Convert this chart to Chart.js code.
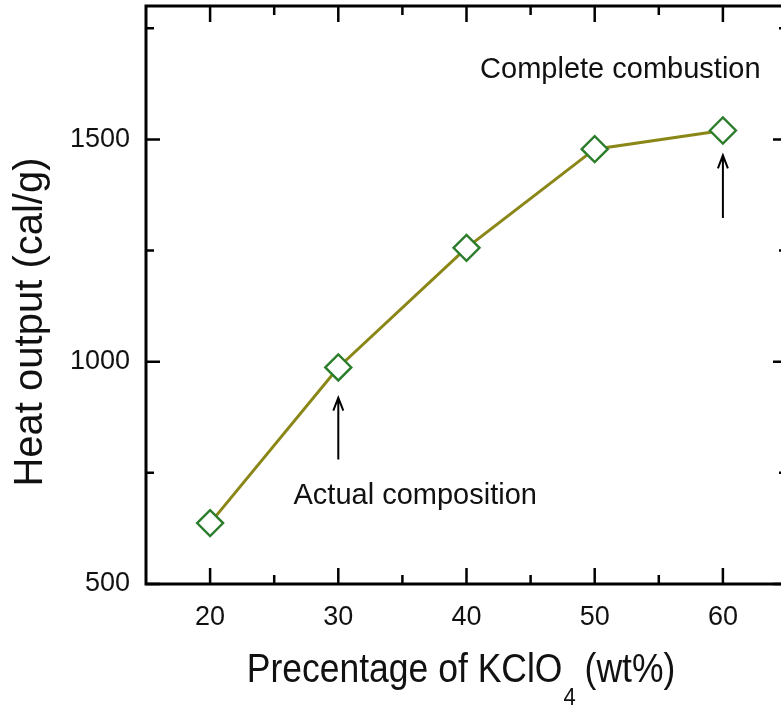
<!DOCTYPE html>
<html>
<head>
<meta charset="utf-8">
<script src="https://cdn.jsdelivr.net/npm/chart.js@4.4.0/dist/chart.umd.min.js"></script>
<style>
  html, body { margin: 0; padding: 0; background: #fff; overflow: hidden; }
  canvas { display: block; }
</style>
</head>
<body>
<canvas id="chart" width="800" height="708"></canvas>
<script>
const kclo4Pct = [20, 30, 40, 50, 60];
const heatOutput = [637, 987, 1256, 1478, 1520];
const xTicks = [20, 30, 40, 50, 60];
const xMinorTicks = [25, 35, 45, 55];
const yTicks = [500, 1000, 1500];
const yMinorTicks = [750, 1250, 1750];

const FONT = '"Liberation Sans", Arial, Helvetica, sans-serif';

// text + arrow notes, given in data units
const notes = [
  { text: "Complete combustion", x: 52, y: 1637, arrowX: 60, from: 1323, to: 1464 },
  { text: "Actual composition", x: 36, y: 679, arrowX: 30, from: 780, to: 919 },
];

// box, inward ticks, titles and notes
const frame = {
  id: "frame",
  afterDraw(chart) {
    const { ctx, chartArea: a, scales: { x, y } } = chart;
    ctx.save();
    ctx.strokeStyle = "#000";
    ctx.lineCap = "butt";

    ctx.lineWidth = 2.5;
    ctx.beginPath();
    const xt = (vals, len) => vals.forEach(v => {
      const px = x.getPixelForValue(v);
      ctx.moveTo(px, a.bottom); ctx.lineTo(px, a.bottom - len);
      ctx.moveTo(px, a.top); ctx.lineTo(px, a.top + len);
    });
    const yt = (vals, len) => vals.forEach(v => {
      const py = y.getPixelForValue(v);
      ctx.moveTo(a.left, py); ctx.lineTo(a.left + len, py);
      ctx.moveTo(a.right, py); ctx.lineTo(a.right - len, py);
    });
    xt(xTicks, 16); xt(xMinorTicks, 9);
    yt(yTicks, 14); yt(yMinorTicks, 8);
    ctx.stroke();

    ctx.lineWidth = 3;
    ctx.strokeRect(a.left, a.top, a.right - a.left, a.bottom - a.top);

    ctx.fillStyle = "#111";

    // y title
    ctx.save();
    ctx.translate(31, 322);
    ctx.rotate(-Math.PI / 2);
    ctx.font = "40px " + FONT;
    ctx.textAlign = "center";
    ctx.textBaseline = "middle";
    ctx.fillText("Heat output (cal/g)", 0, 0);
    ctx.restore();

    // x title with subscript (glyphs look a bit taller in the source)
    const big = "35.5px " + FONT, small = "22px " + FONT;
    const p1 = "Precentage of KClO", p2 = "4", p3 = " (wt%)";
    ctx.font = big;
    const w1 = ctx.measureText(p1).width, w3 = ctx.measureText(p3).width;
    ctx.font = small;
    const w2 = ctx.measureText(p2).width;
    let cx = 461 - (w1 + w2 + w3) / 2;
    ctx.textAlign = "left";
    ctx.textBaseline = "alphabetic";
    const tall = (t, px, base) => {
      ctx.save();
      ctx.translate(px, base);
      ctx.scale(1, 1.12);
      ctx.fillText(t, 0, 0);
      ctx.restore();
    };
    ctx.font = big; tall(p1, cx, 682); cx += w1 + 1;
    ctx.font = small; tall(p2, cx, 705); cx += w2;
    ctx.font = big; tall(p3, cx - 1, 682);

    // notes
    ctx.font = "29px " + FONT;
    ctx.textAlign = "center";
    ctx.lineWidth = 2;
    notes.forEach(n => {
      ctx.fillText(n.text, x.getPixelForValue(n.x), y.getPixelForValue(n.y));
      const ax = x.getPixelForValue(n.arrowX);
      const tail = y.getPixelForValue(n.from), tip = y.getPixelForValue(n.to);
      ctx.beginPath();
      ctx.moveTo(ax, tail); ctx.lineTo(ax, tip);
      ctx.moveTo(ax - 5, tip + 13); ctx.lineTo(ax, tip); ctx.lineTo(ax + 5, tip + 13);
      ctx.stroke();
    });
    ctx.restore();
  }
};

const tickFont = { family: FONT, size: 27 };
const noPad = s => { s.paddingTop = 0; s.paddingBottom = 0; s.paddingLeft = 0; s.paddingRight = 0; };

new Chart(document.getElementById("chart"), {
  type: "line",
  data: {
    datasets: [{
      data: kclo4Pct.map((v, i) => ({ x: v, y: heatOutput[i] })),
      borderColor: "#8a8718",
      borderWidth: 3,
      tension: 0,
      pointStyle: "rectRot",
      pointRadius: 13,
      pointBorderWidth: 2.4,
      pointBorderColor: "#2b7d2b",
      pointBackgroundColor: "#fff",
    }],
  },
  options: {
    responsive: false,
    animation: false,
    layout: { autoPadding: false, padding: { top: 6, right: 13, left: 0, bottom: 0 } },
    plugins: { legend: { display: false }, tooltip: { enabled: false } },
    scales: {
      x: {
        type: "linear",
        min: 15,
        max: 65,
        afterBuildTicks: s => { s.ticks = xTicks.map(v => ({ value: v })); },
        afterFit: s => { s.height = 124; noPad(s); },
        grid: { display: false, drawTicks: false },
        border: { display: false },
        ticks: { padding: 17, color: "#111", font: tickFont, callback: v => String(v) },
      },
      y: {
        type: "linear",
        min: 500,
        max: 1800,
        afterBuildTicks: s => { s.ticks = yTicks.map(v => ({ value: v })); },
        afterFit: s => { s.width = 146; noPad(s); },
        grid: { display: false, drawTicks: false },
        border: { display: false },
        ticks: { padding: 16, color: "#111", font: tickFont, callback: v => String(v) },
      },
    },
  },
  plugins: [frame],
});
</script>
</body>
</html>
